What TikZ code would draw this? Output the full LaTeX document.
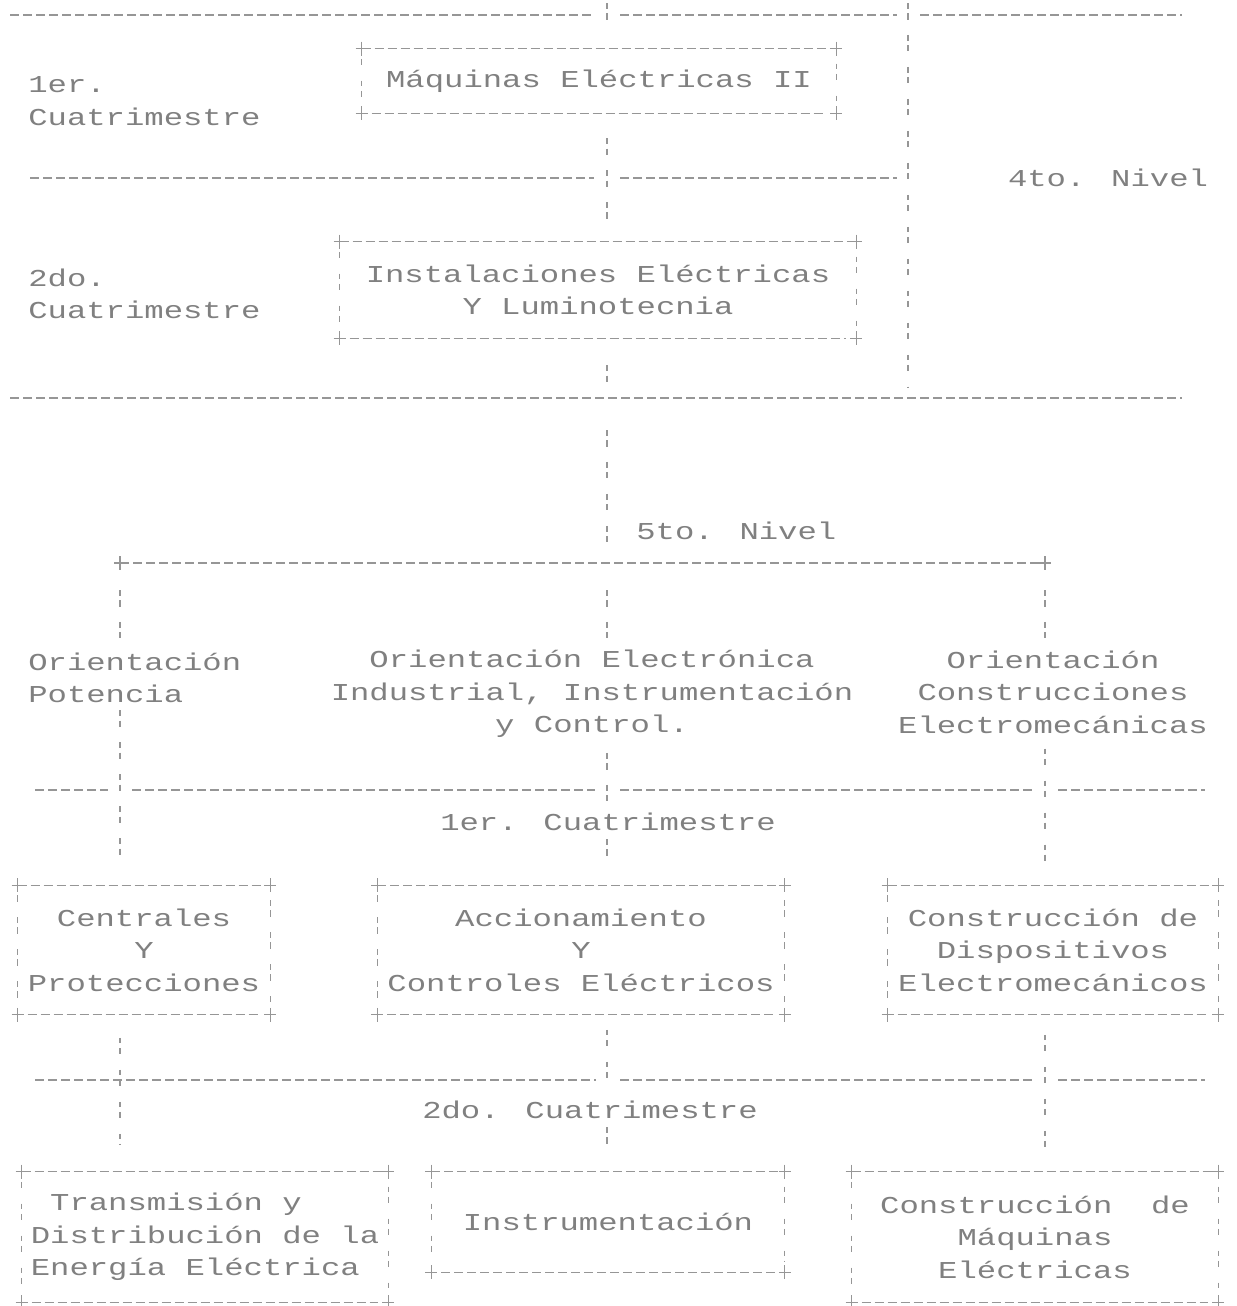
\documentclass[tikz,border=0pt]{standalone}
\usepackage{fontspec}
\newfontfamily\dotmatrix[FakeStretch=1.33]{Liberation Mono}
\definecolor{ink}{RGB}{128,128,128}
\definecolor{rule}{RGB}{150,150,150}
\tikzset{
  hline/.style={draw=rule,line width=0.7pt,dash pattern=on 5.1pt off 2.3pt},
  vline/.style={draw=rule,line width=0.7pt,dash pattern=on 3.2pt off 2.6pt on 3.6pt off 8.8pt},
  tagtext/.style={text=ink,font=\dotmatrix\fontsize{13.8}{18.4}\selectfont,inner sep=0pt},
  course/.style 2 args={tagtext,align=center,minimum width=#1,minimum height=#2},
}
\newcommand{\pluscorner}[1]{\draw[rule,line width=0.7pt] (#1) +(-6,0) -- +(6,0) +(0,-7) -- +(0,7);}
\newcommand{\courseframe}[1]{
  \draw[hline,shorten <=0.2cm,shorten >=0.2cm] (#1.north west) -- (#1.north east) (#1.south west) -- (#1.south east);
  \draw[vline,shorten <=0.3cm,shorten >=0.2cm] (#1.north west) -- (#1.south west) (#1.north east) -- (#1.south east);
  \foreach \c in {north west,north east,south west,south east}{\pluscorner{#1.\c}}
}

\begin{document}
\begin{tikzpicture}[x=0.02cm,y=-0.02cm]
\useasboundingbox (0,0) rectangle (1237,1306);
\coordinate (spine) at (607,0);
\coordinate (lvl4) at (0,398);
\coordinate (bar5L) at (120,563);
\coordinate (bar5R) at (1045,563);
% 4to. Nivel
\draw[hline] (10,15) -- (594,15) (620,15) -- (897,15) (920,15) -- (1182,15);
\draw[hline] (30,178) -- (594,178) (620,178) -- (897,178);
\draw[hline] (10,398) -- (1182,398);
\draw[vline] (607,3) -- (607,32);
\draw[vline] (908,3) -- (908,388);
\node[tagtext,anchor=west,align=left] (c1) at (28,101) {1er.\\Cuatrimestre};
\node[tagtext,anchor=west,align=left] (c2) at (28,294) {2do.\\Cuatrimestre};
\node[tagtext] (n4) at (1108,178) {4to. Nivel};
\node[course={9.48cm}{1.28cm}] (mq) at (599,81) {Máquinas Eléctricas II};
\node[course={10.32cm}{1.92cm}] (inst) at (598,290) {Instalaciones Eléctricas\\Y Luminotecnia};
\draw[vline,shorten <=0.5cm,shorten >=0.44cm] (mq.south -| spine) -- (inst.north -| spine);
\draw[vline,shorten <=0.54cm,shorten >=0.26cm] (inst.south -| spine) -- (lvl4 -| spine);
% 5to. Nivel
\draw[vline,shorten <=0.64cm,shorten >=0.26cm] (lvl4 -| spine) -- (bar5L -| spine);
\node[tagtext,anchor=west] (n5) at (636,531) {5to. Nivel};
\draw[hline] (bar5L) -- (bar5R);
\pluscorner{bar5L}\pluscorner{bar5R}
\node[tagtext,anchor=west,align=left] (pot) at (28,678) {Orientación\\Potencia};
\node[tagtext,align=center] (elec) at (592,694) {Orientación Electrónica\\Industrial, Instrumentación\\y Control.};
\node[tagtext,align=center] (cons) at (1053,692) {Orientación\\Construcciones\\Electromecánicas};
\foreach \a/\b in {35/108,132/595,620/1035,1058/1205}{\draw[hline] (\a,790) -- (\b,790);}
\node[tagtext] (s1) at (608,822) {1er. Cuatrimestre};
\node[course={5.04cm}{2.58cm}] (cen) at (144,950) {Centrales\\Y\\Protecciones};
\node[course={8.14cm}{2.58cm}] (acc) at (581,950) {Accionamiento\\Y\\Controles Eléctricos};
\node[course={6.6cm}{2.58cm}] (cdisp) at (1053,950) {Construcción de\\Dispositivos\\Electromecánicos};
\foreach \a/\b in {35/596,620/1035,1058/1205}{\draw[hline] (\a,1080) -- (\b,1080);}
\node[tagtext] (s2) at (590,1110) {2do. Cuatrimestre};
\node[course={7.32cm}{2.6cm},align=left] (trans) at (205,1237) {\ Transmisión y\\Distribución de la\\Energía Eléctrica};
\node[course={7.06cm}{2cm}] (instr) at (608,1222) {Instrumentación};
\node[course={7.32cm}{2.6cm}] (cmaq) at (1035,1237) {Construcción\ \ de\\Máquinas\\Eléctricas};
\foreach \n in {mq,inst,cen,acc,cdisp,trans,instr,cmaq}{\courseframe{\n}}
% ramas
\draw[vline,shorten <=0.54cm,shorten >=0.2cm] (bar5L) -- (pot.north -| bar5L);
\draw[vline,shorten <=0.54cm,shorten >=0.2cm] (bar5L -| spine) -- (elec.north -| spine);
\draw[vline,shorten <=0.54cm,shorten >=0.2cm] (bar5R) -- (cons.north -| bar5R);
\draw[vline,shorten <=0.14cm,shorten >=0.48cm] (pot.south -| bar5L) -- (cen.north -| bar5L);
\draw[vline,shorten <=0.3cm,shorten >=0.14cm] (elec.south -| spine) -- (s1.north -| spine);
\draw[vline,shorten <=0.16cm,shorten >=0.48cm] (s1.south -| spine) -- (acc.north -| spine);
\draw[vline,shorten <=0.3cm,shorten >=0.48cm] (cons.south -| bar5R) -- (cdisp.north -| bar5R);
\draw[vline,shorten <=0.46cm,shorten >=0.54cm] (cen.south -| bar5L) -- (trans.north -| bar5L);
\draw[vline,shorten <=0.3cm,shorten >=0.14cm] (acc.south -| spine) -- (s2.north -| spine);
\draw[vline,shorten <=0.16cm,shorten >=0.44cm] (s2.south -| spine) -- (instr.north -| spine);
\draw[vline,shorten <=0.4cm,shorten >=0.44cm] (cdisp.south -| bar5R) -- (cmaq.north -| bar5R);
\end{tikzpicture}
\end{document}
